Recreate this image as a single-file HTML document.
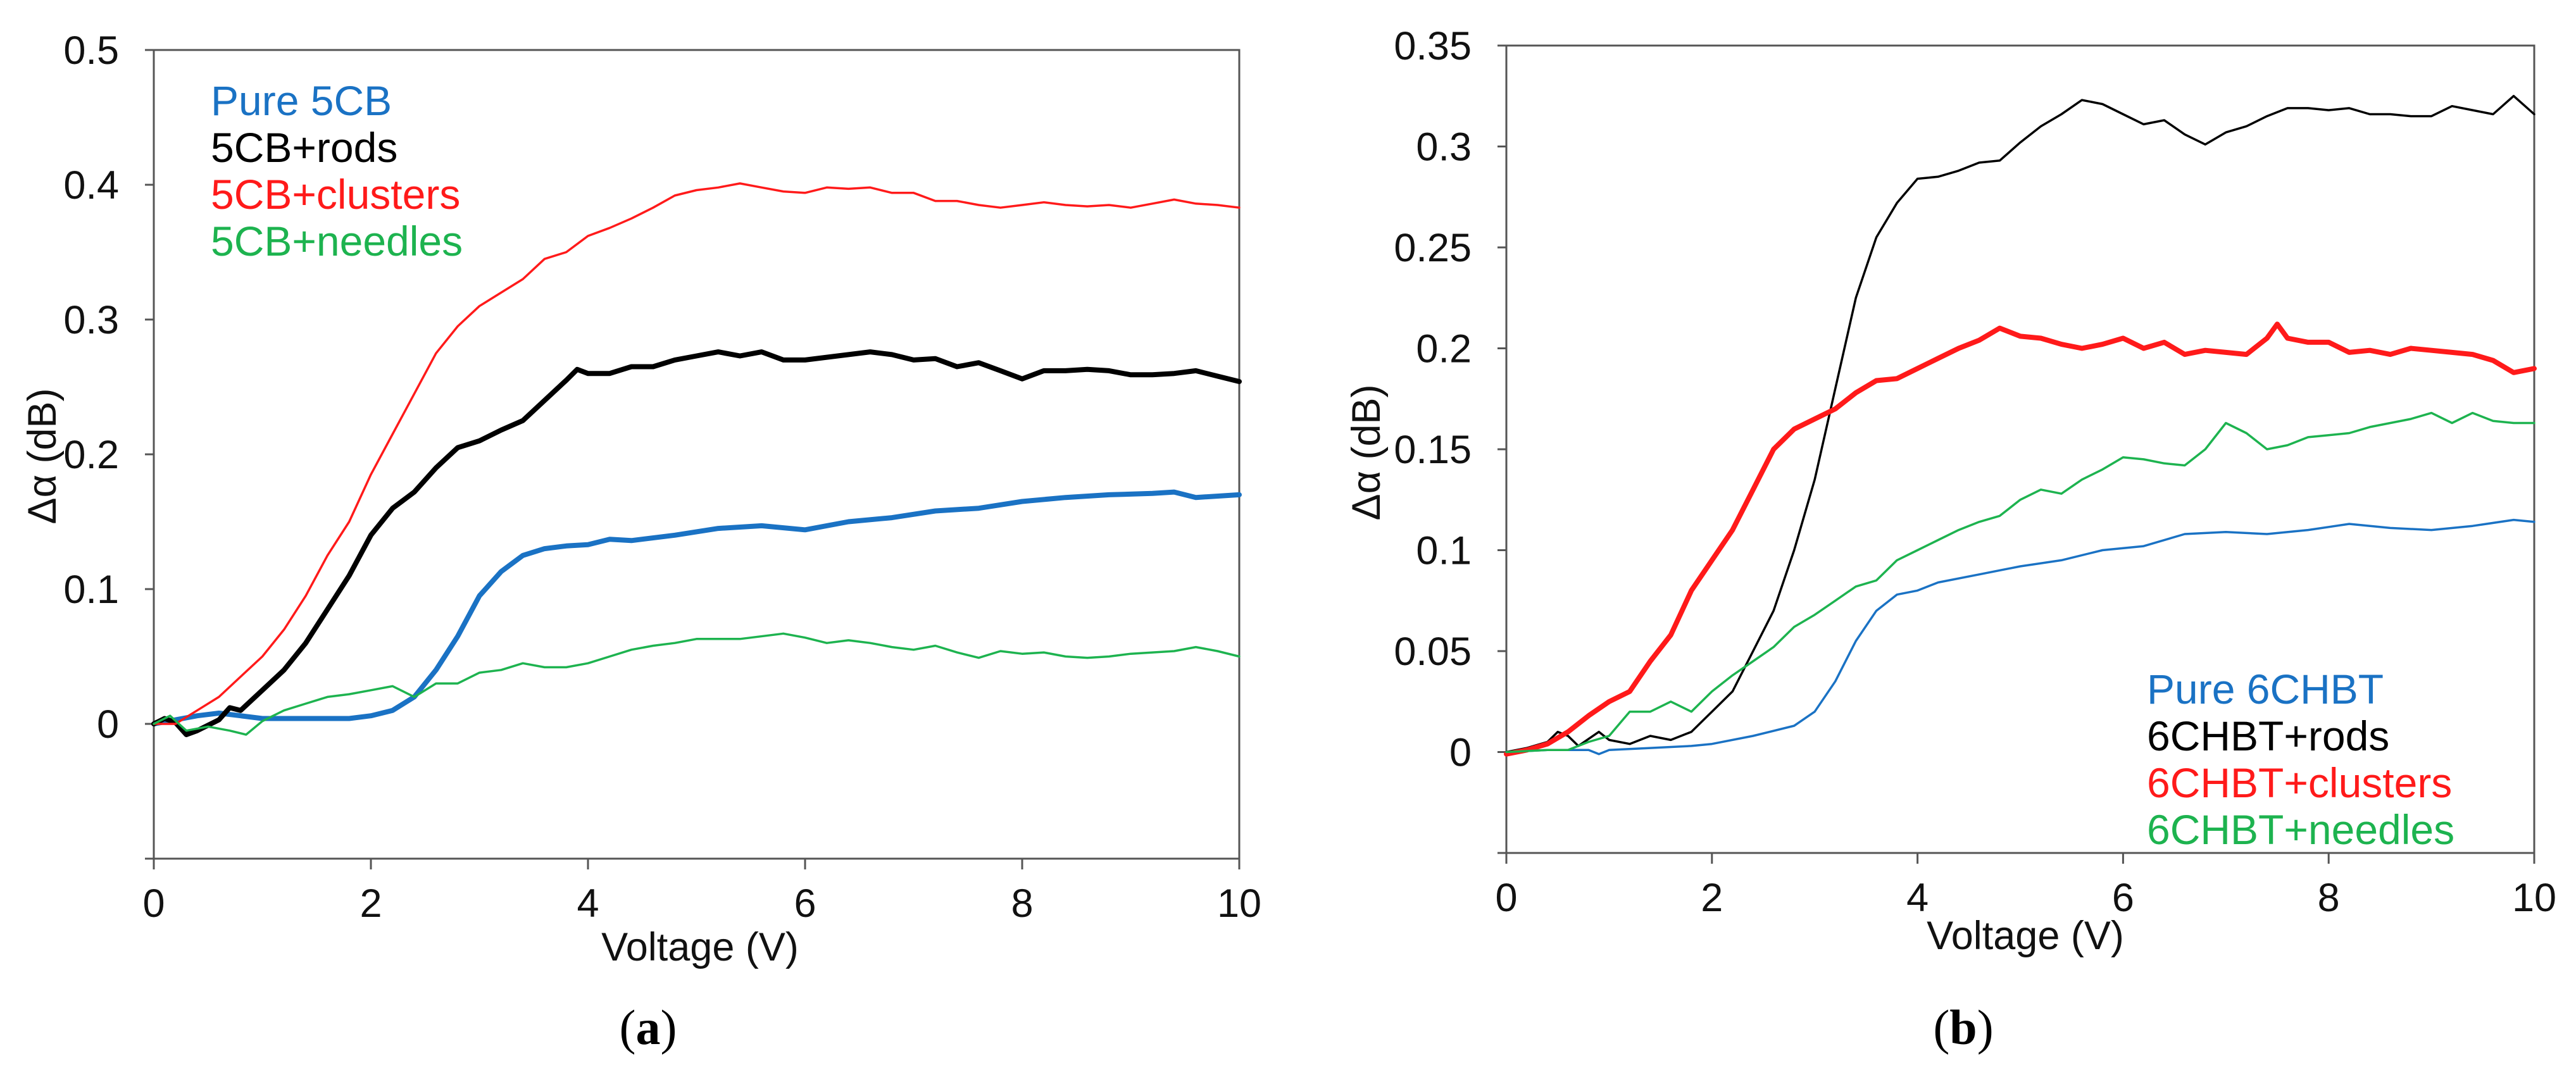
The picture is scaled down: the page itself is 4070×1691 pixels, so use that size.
<!DOCTYPE html>
<html><head><meta charset="utf-8"><style>
html,body{margin:0;padding:0;background:#fff;}
svg{display:block;font-family:"Liberation Sans",Arial,sans-serif;}
</style></head><body>
<svg id="fig" width="4070" height="1691" viewBox="0 0 4070 1691" xmlns="http://www.w3.org/2000/svg">
<rect width="4070" height="1691" fill="#fff"/>
<g id="chartA"></g>
<g id="chartB"></g>
</svg>
<script>
const xTicks = [0,2,4,6,8,10];
const xTickLabels = ["0","2","4","6","8","10"];
const aYTicks = [0,0.1,0.2,0.3,0.4,0.5];
const aYTickLabels = ["0","0.1","0.2","0.3","0.4","0.5"];
const bYTicks = [0,0.05,0.1,0.15,0.2,0.25,0.3,0.35];
const bYTickLabels = ["0","0.05","0.1","0.15","0.2","0.25","0.3","0.35"];

const aLegend = ["Pure 5CB","5CB+rods","5CB+clusters","5CB+needles"];
const bLegend = ["Pure 6CHBT","6CHBT+rods","6CHBT+clusters","6CHBT+needles"];

// Chart (a) series: [voltage, value]
const aPure = [[0,0],[0.4,0.006],[0.6,0.008],[0.8,0.006],[1.0,0.004],[1.4,0.004],[1.8,0.004],[2.0,0.006],[2.2,0.01],[2.4,0.02],[2.6,0.04],[2.8,0.065],[3.0,0.095],[3.2,0.113],[3.4,0.125],[3.6,0.13],[3.8,0.132],[4.0,0.133],[4.2,0.137],[4.4,0.136],[4.8,0.14],[5.2,0.145],[5.6,0.147],[6.0,0.144],[6.4,0.15],[6.8,0.153],[7.2,0.158],[7.6,0.16],[8.0,0.165],[8.4,0.168],[8.8,0.17],[9.2,0.171],[9.4,0.172],[9.6,0.168],[10,0.17]];
const aRods = [[0,0],[0.1,0.004],[0.2,0.001],[0.3,-0.008],[0.4,-0.005],[0.6,0.003],[0.7,0.012],[0.8,0.01],[1.0,0.025],[1.2,0.04],[1.4,0.06],[1.6,0.085],[1.8,0.11],[2.0,0.14],[2.2,0.16],[2.4,0.172],[2.6,0.19],[2.8,0.205],[3.0,0.21],[3.2,0.218],[3.4,0.225],[3.6,0.24],[3.8,0.255],[3.9,0.263],[4.0,0.26],[4.2,0.26],[4.4,0.265],[4.6,0.265],[4.8,0.27],[5.0,0.273],[5.2,0.276],[5.4,0.273],[5.6,0.276],[5.8,0.27],[6.0,0.27],[6.2,0.272],[6.4,0.274],[6.6,0.276],[6.8,0.274],[7.0,0.27],[7.2,0.271],[7.4,0.265],[7.6,0.268],[7.8,0.262],[8.0,0.256],[8.2,0.262],[8.4,0.262],[8.6,0.263],[8.8,0.262],[9.0,0.259],[9.2,0.259],[9.4,0.26],[9.6,0.262],[9.8,0.258],[10,0.254]];
const aClusters = [[0,0],[0.2,0],[0.4,0.01],[0.6,0.02],[0.8,0.035],[1.0,0.05],[1.2,0.07],[1.4,0.095],[1.6,0.125],[1.8,0.15],[2.0,0.185],[2.2,0.215],[2.4,0.245],[2.6,0.275],[2.8,0.295],[3.0,0.31],[3.2,0.32],[3.4,0.33],[3.6,0.345],[3.8,0.35],[4.0,0.362],[4.2,0.368],[4.4,0.375],[4.6,0.383],[4.8,0.392],[5.0,0.396],[5.2,0.398],[5.4,0.401],[5.6,0.398],[5.8,0.395],[6.0,0.394],[6.2,0.398],[6.4,0.397],[6.6,0.398],[6.8,0.394],[7.0,0.394],[7.2,0.388],[7.4,0.388],[7.6,0.385],[7.8,0.383],[8.0,0.385],[8.2,0.387],[8.4,0.385],[8.6,0.384],[8.8,0.385],[9.0,0.383],[9.2,0.386],[9.4,0.389],[9.6,0.386],[9.8,0.385],[10,0.383]];
const aNeedles = [[0,0],[0.15,0.006],[0.3,-0.005],[0.5,-0.002],[0.7,-0.005],[0.85,-0.008],[1.0,0.002],[1.2,0.01],[1.4,0.015],[1.6,0.02],[1.8,0.022],[2.0,0.025],[2.2,0.028],[2.4,0.02],[2.6,0.03],[2.8,0.03],[3.0,0.038],[3.2,0.04],[3.4,0.045],[3.6,0.042],[3.8,0.042],[4.0,0.045],[4.2,0.05],[4.4,0.055],[4.6,0.058],[4.8,0.06],[5.0,0.063],[5.4,0.063],[5.8,0.067],[6.0,0.064],[6.2,0.06],[6.4,0.062],[6.6,0.06],[6.8,0.057],[7.0,0.055],[7.2,0.058],[7.4,0.053],[7.6,0.049],[7.8,0.054],[8.0,0.052],[8.2,0.053],[8.4,0.05],[8.6,0.049],[8.8,0.05],[9.0,0.052],[9.4,0.054],[9.6,0.057],[9.8,0.054],[10,0.05]];

// Chart (b) series
const bPure = [[0,0],[0.4,0.001],[0.8,0.001],[0.9,-0.001],[1.0,0.001],[1.4,0.002],[1.8,0.003],[2.0,0.004],[2.4,0.008],[2.8,0.013],[3.0,0.02],[3.2,0.035],[3.4,0.055],[3.6,0.07],[3.8,0.078],[4.0,0.08],[4.2,0.084],[4.6,0.088],[5.0,0.092],[5.4,0.095],[5.8,0.1],[6.2,0.102],[6.6,0.108],[7.0,0.109],[7.4,0.108],[7.8,0.11],[8.2,0.113],[8.6,0.111],[9.0,0.11],[9.4,0.112],[9.8,0.115],[10,0.114]];
const bRods = [[0,0],[0.2,0.002],[0.4,0.005],[0.5,0.01],[0.6,0.008],[0.7,0.003],[0.9,0.01],[1.0,0.006],[1.2,0.004],[1.4,0.008],[1.6,0.006],[1.8,0.01],[2.0,0.02],[2.2,0.03],[2.4,0.05],[2.6,0.07],[2.8,0.1],[3.0,0.135],[3.2,0.18],[3.4,0.225],[3.6,0.255],[3.8,0.272],[4.0,0.284],[4.2,0.285],[4.4,0.288],[4.6,0.292],[4.8,0.293],[5.0,0.302],[5.2,0.31],[5.4,0.316],[5.6,0.323],[5.8,0.321],[6.0,0.316],[6.2,0.311],[6.4,0.313],[6.6,0.306],[6.8,0.301],[7.0,0.307],[7.2,0.31],[7.4,0.315],[7.6,0.319],[7.8,0.319],[8.0,0.318],[8.2,0.319],[8.4,0.316],[8.6,0.316],[8.8,0.315],[9.0,0.315],[9.2,0.32],[9.4,0.318],[9.6,0.316],[9.8,0.325],[10,0.316]];
const bClusters = [[0,-0.001],[0.2,0.001],[0.4,0.004],[0.6,0.01],[0.8,0.018],[1.0,0.025],[1.2,0.03],[1.4,0.045],[1.6,0.058],[1.8,0.08],[2.0,0.095],[2.2,0.11],[2.4,0.13],[2.6,0.15],[2.8,0.16],[3.0,0.165],[3.2,0.17],[3.4,0.178],[3.6,0.184],[3.8,0.185],[4.0,0.19],[4.2,0.195],[4.4,0.2],[4.6,0.204],[4.8,0.21],[5.0,0.206],[5.2,0.205],[5.4,0.202],[5.6,0.2],[5.8,0.202],[6.0,0.205],[6.2,0.2],[6.4,0.203],[6.6,0.197],[6.8,0.199],[7.0,0.198],[7.2,0.197],[7.4,0.205],[7.5,0.212],[7.6,0.205],[7.8,0.203],[8.0,0.203],[8.2,0.198],[8.4,0.199],[8.6,0.197],[8.8,0.2],[9.0,0.199],[9.2,0.198],[9.4,0.197],[9.6,0.194],[9.8,0.188],[10,0.19]];
const bNeedles = [[0,0],[0.4,0.001],[0.6,0.001],[0.8,0.005],[1.0,0.008],[1.2,0.02],[1.4,0.02],[1.6,0.025],[1.8,0.02],[2.0,0.03],[2.2,0.038],[2.4,0.045],[2.6,0.052],[2.8,0.062],[3.0,0.068],[3.2,0.075],[3.4,0.082],[3.6,0.085],[3.8,0.095],[4.0,0.1],[4.2,0.105],[4.4,0.11],[4.6,0.114],[4.8,0.117],[5.0,0.125],[5.2,0.13],[5.4,0.128],[5.6,0.135],[5.8,0.14],[6.0,0.146],[6.2,0.145],[6.4,0.143],[6.6,0.142],[6.8,0.15],[7.0,0.163],[7.2,0.158],[7.4,0.15],[7.6,0.152],[7.8,0.156],[8.0,0.157],[8.2,0.158],[8.4,0.161],[8.6,0.163],[8.8,0.165],[9.0,0.168],[9.2,0.163],[9.4,0.168],[9.6,0.164],[9.8,0.163],[10,0.163]];

const NS = "http://www.w3.org/2000/svg";
function mk(tag, attrs, parent){const e=document.createElementNS(NS,tag);for(const k in attrs)e.setAttribute(k,attrs[k]);parent.appendChild(e);return e;}

function drawChart(g, cfg){
  const xS = v => cfg.x0 + (v - 0) / 10 * (cfg.x1 - cfg.x0);
  const yS = v => cfg.yB + (v - cfg.yMin) / (cfg.yMax - cfg.yMin) * (cfg.yT - cfg.yB);
  const frame = mk('rect',{x:cfg.x0,y:cfg.yT,width:cfg.x1-cfg.x0,height:cfg.yB-cfg.yT,fill:'none',stroke:'#555','stroke-width':3},g);
  
  
  cfg.yTicks.forEach((t,i)=>{
    const y=yS(t);
    const tk=mk('line',{x1:cfg.x0-14,x2:cfg.x0,y1:y,y2:y,stroke:'#555','stroke-width':3},g);
    
    
    const tx=mk('text',{x:cfg.x0-55,y:y+22,'text-anchor':'end','font-size':63,fill:'#111'},g);
    tx.textContent=cfg.yTickLabels[i];
    
    
  });
  const tkb=mk('line',{x1:cfg.x0-14,x2:cfg.x0,y1:cfg.yB,y2:cfg.yB,stroke:'#555','stroke-width':3},g);
  
  
  xTicks.forEach((t,i)=>{
    const x=xS(t);
    const tk=mk('line',{x1:x,x2:x,y1:cfg.yB,y2:cfg.yB+17,stroke:'#555','stroke-width':3},g);
    
    
    const tx=mk('text',{x:x,y:cfg.yB+92,'text-anchor':'middle','font-size':63,fill:'#111'},g);
    tx.textContent=xTickLabels[i];
    
    
  });
  cfg.series.forEach(s=>{
    const d=s.data.map((p,i)=>(i?'L':'M')+xS(p[0]).toFixed(1)+','+yS(p[1]).toFixed(1)).join('');
    const p=mk('path',{d:d,fill:'none',stroke:s.color,'stroke-width':s.w,'stroke-linejoin':'round','stroke-linecap':'round'},g);
    
    
  });
  cfg.legend.forEach((l,i)=>{
    const tx=mk('text',{x:cfg.lx,y:cfg.ly+i*cfg.lstep,'font-size':66,fill:cfg.series[i].color},g);
    tx.textContent=l;
    
    
  });
  const xt=mk('text',{x:cfg.xtx,y:cfg.xty,'text-anchor':'middle','font-size':63,fill:'#111'},g);
  xt.textContent='Voltage (V)';
  
  
  const yt=mk('text',{x:0,y:0,'text-anchor':'middle','font-size':63,fill:'#111',transform:'translate('+cfg.ytx+','+cfg.yty+') rotate(-90)'},g);
  yt.textContent='\u0394\u03b1 (dB)';
  
  
  const cap=mk('text',{x:cfg.capx,y:1650,'text-anchor':'middle','font-size':78,fill:'#000','font-family':'"Liberation Serif",serif'},g);
  cap.innerHTML='(<tspan font-weight="bold">'+cfg.cap+'</tspan>)';
  
  
}

drawChart(document.getElementById('chartA'),{
  x0:243,x1:1958,yT:79,yB:1357,yMin:-0.1,yMax:0.5,
  yTicks:aYTicks,yTickLabels:aYTickLabels,
  series:[{name:'series-pure-5cb',data:aPure,color:'#1a72c4',w:8},
          {name:'series-5cb-rods',data:aRods,color:'#000',w:8},
          {name:'series-5cb-clusters',data:aClusters,color:'#ff1a1a',w:3.5},
          {name:'series-5cb-needles',data:aNeedles,color:'#1db34f',w:3.5}],
  legend:aLegend,lx:333,ly:182,lstep:74,
  xtx:1106,xty:1518,ytx:88,yty:721,capx:1024,cap:'a'
});
drawChart(document.getElementById('chartB'),{
  x0:2380,x1:4004,yT:72,yB:1348,yMin:-0.05,yMax:0.35,
  yTicks:bYTicks,yTickLabels:bYTickLabels,
  series:[{name:'series-pure-6chbt',data:bPure,color:'#1a72c4',w:3.5},
          {name:'series-6chbt-rods',data:bRods,color:'#000',w:3.5},
          {name:'series-6chbt-clusters',data:bClusters,color:'#ff1a1a',w:8},
          {name:'series-6chbt-needles',data:bNeedles,color:'#1db34f',w:3.5}],
  legend:bLegend,lx:3392,ly:1112,lstep:74,
  xtx:3200,xty:1500,ytx:2180,yty:715,capx:3102,cap:'b'
});
</script>
</body></html>
